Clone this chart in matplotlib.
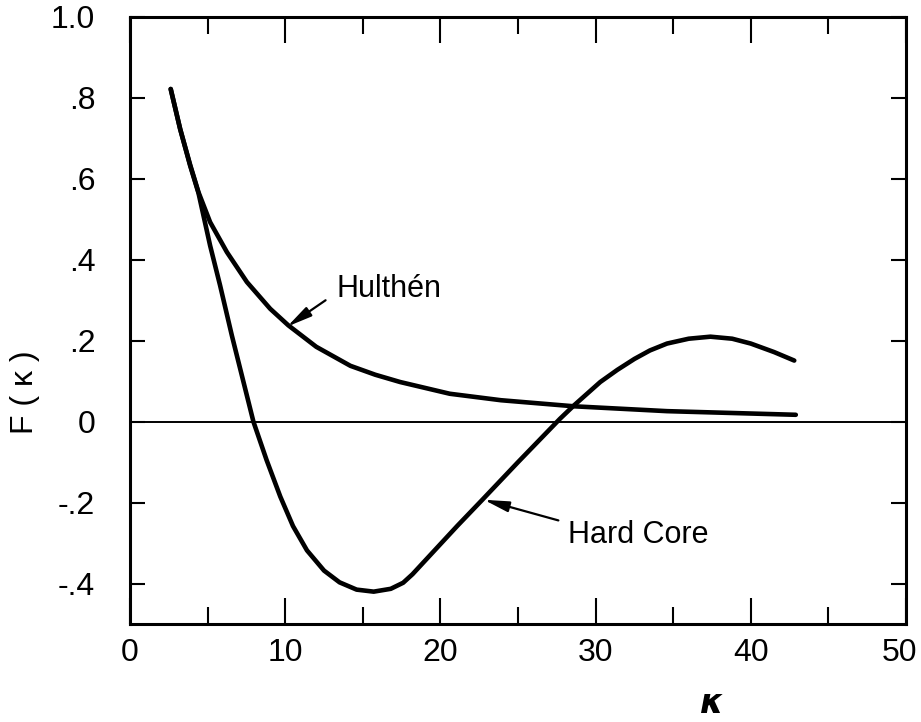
import matplotlib
matplotlib.use("Agg")
import matplotlib.pyplot as plt
from matplotlib.transforms import ScaledTranslation

# values
hard_k = [2.62, 3.23, 3.87, 4.41, 5.16, 5.8, 6.56, 7.95, 8.8, 9.68, 10.5,
          11.4, 12.5, 13.5, 14.6, 15.7, 16.8, 17.6, 18.2, 18.9, 21.1, 22.7,
          25.0, 27.7, 28.6, 30.3, 31.4, 32.5, 33.5, 34.6, 36.0, 37.4, 38.8,
          40.0, 41.5, 42.8]
hard_F = [0.822, 0.723, 0.633, 0.565, 0.435, 0.337, 0.213, 0.0, -0.095,
          -0.185, -0.258, -0.318, -0.368, -0.397, -0.415, -0.42, -0.413,
          -0.398, -0.377, -0.348, -0.257, -0.193, -0.10, 0.007, 0.04, 0.098,
          0.128, 0.155, 0.176, 0.193, 0.205, 0.21, 0.205, 0.193, 0.172,
          0.151]

hulthen_k = [2.62, 3.23, 3.87, 4.41, 5.16, 6.24, 7.53, 9.03, 10.2, 12.0,
             14.2, 15.8, 17.4, 20.6, 23.9, 28.6, 34.6, 42.9]
hulthen_F = [0.822, 0.723, 0.635, 0.567, 0.493, 0.419, 0.345, 0.279, 0.238,
             0.185, 0.138, 0.116, 0.098, 0.069, 0.053, 0.038, 0.026, 0.017]

xticks = [0, 10, 20, 30, 40, 50]
xminor = [5, 15, 25, 35, 45]
yticks = [-0.4, -0.2, 0, 0.2, 0.4, 0.6, 0.8, 1.0]
ylabels = ["-.4", "-.2", "0", ".2", ".4", ".6", ".8", "1.0"]

plt.rcParams['font.family'] = ['Liberation Sans', 'DejaVu Sans']

fig = plt.figure(figsize=(9.21, 7.22), dpi=100)
ax = fig.add_axes([0.1412, 0.1357, 0.8425, 0.8408])

ax.plot(hard_k, hard_F, color='black', lw=3.3, solid_joinstyle='round',
        solid_capstyle='round')
ax.plot(hulthen_k, hulthen_F, color='black', lw=3.3, solid_joinstyle='round',
        solid_capstyle='round')
ax.axhline(0, color='black', lw=1.4)

ax.set_xlim(0, 50)
ax.set_ylim(-0.5, 1.0)
ax.set_xticks(xticks)
ax.set_xticks(xminor, minor=True)
ax.set_yticks(yticks)
ax.set_yticklabels(ylabels)

for s in ax.spines.values():
    s.set_linewidth(2.2)

ax.tick_params(axis='both', which='both', direction='in', top=True,
               right=True, width=1.5, labelsize=23)
ax.tick_params(axis='x', which='major', length=19, pad=10)
ax.tick_params(axis='x', which='minor', length=12)
ax.tick_params(axis='y', which='major', length=11, pad=25)

# "50" sits right at the figure edge, nudge it in a little
last = ax.get_xticklabels()[-1]
last.set_transform(last.get_transform() +
                   ScaledTranslation(-0.06, 0, fig.dpi_scale_trans))

arrow = dict(arrowstyle='-|>,head_length=0.75,head_width=0.16',
             color='black', lw=1.6, shrinkA=0, shrinkB=0, mutation_scale=20)
ax.annotate("", xy=(10.13, 0.235), xytext=(12.6, 0.30), arrowprops=arrow)
ax.text(13.3, 0.309, "Hulthén", fontsize=22, ha='left', va='baseline')
ax.annotate("", xy=(22.8, -0.193), xytext=(27.6, -0.244), arrowprops=arrow)
ax.text(28.2, -0.301, "Hard Core", fontsize=22, ha='left', va='baseline')

fig.text(0.027, 0.457, "F ( κ )", rotation=90, fontsize=23,
         ha='center', va='center')
fig.text(0.773, 0.025, "κ", fontsize=24, style='italic', fontweight='bold',
         ha='center', va='center', family='DejaVu Sans')

fig.savefig("out.png", dpi=100)
